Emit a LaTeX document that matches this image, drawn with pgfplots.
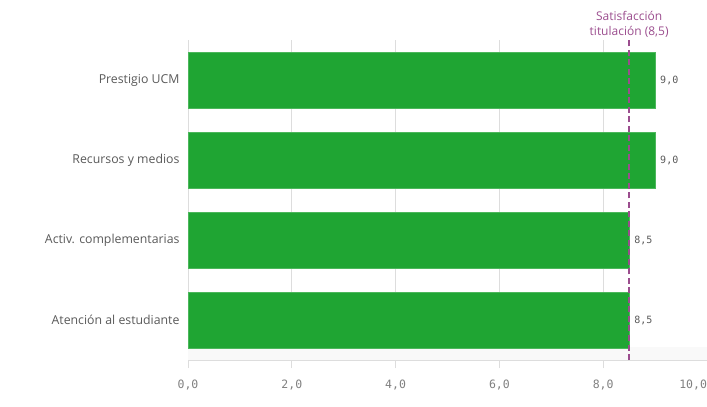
\documentclass[border=0pt]{standalone}
\usepackage{pgfplots}
\pgfplotsset{compat=1.18}
\usepackage{fontspec}
\setmainfont{Open Sans}
\setmonofont{DejaVu Sans Mono}
\definecolor{barg}{HTML}{1FA533}
\definecolor{refp}{HTML}{9B4D8E}
\definecolor{txt}{HTML}{595959}
\definecolor{tickt}{HTML}{808080}
\definecolor{gridc}{HTML}{DDDDDD}
\begin{document}
\begin{tikzpicture}[x=1pt,y=1pt]
\begin{axis}[
  at={(188pt,47pt)}, anchor=south west,
  scale only axis, width=519pt, height=320pt,
  xbar, bar width=56pt,
  xmin=0, xmax=10, ymin=-0.5, ymax=3.5,
  ytick={0,1,2,3},
  yticklabels={Atención al estudiante, Activ. complementarias, Recursos y medios, Prestigio UCM},
  yticklabel style={font=\fontsize{12.3}{14}\selectfont, text=txt, xshift=3pt},
  xtick={0,2,4,6,8,10},
  xticklabels={{0,0},{2,0},{4,0},{6,0},{8,0},{\makebox[0pt][r]{10,0}}},
  xticklabel style={font=\ttfamily\fontsize{11.5}{13}\selectfont, text=tickt, yshift=-8pt},
  axis x line=bottom, axis y line=left,
  axis line style={-, draw=gridc, line width=0.8pt},
  xmajorgrids, grid style={draw=gridc, line width=0.8pt},
  tick align=outside, major tick length=8pt,
  xtick style={draw=gridc, line width=0.8pt},
  ytick style={draw=none},
  nodes near coords,
  nodes near coords style={font=\ttfamily\fontsize{10}{12}\selectfont, text=txt, anchor=west, xshift=1.5pt,
    /pgf/number format/.cd, fixed, fixed zerofill, precision=1, use comma, assume math mode=true},
  clip=false,
]
\fill[black!2.5] (axis cs:0,-0.5) rectangle (axis cs:10,-0.34);
\addplot[fill=barg, draw=barg!80!white, line width=0.6pt] coordinates {(8.5,0) (8.5,1) (9.0,2) (9.0,3)};
\draw[refp, line width=1.6pt, dash pattern=on 6pt off 3.5pt] (axis cs:8.5,-0.5) -- (axis cs:8.5,3.5);
\node[text=refp, align=center, anchor=south, font=\fontsize{12}{15}\selectfont, inner sep=2pt] at (axis cs:8.5,3.5) {Satisfacción\\titulación (8,5)};
\end{axis}
\pgfresetboundingbox
\path (0,0) rectangle (707,407);
\end{tikzpicture}
\end{document}
